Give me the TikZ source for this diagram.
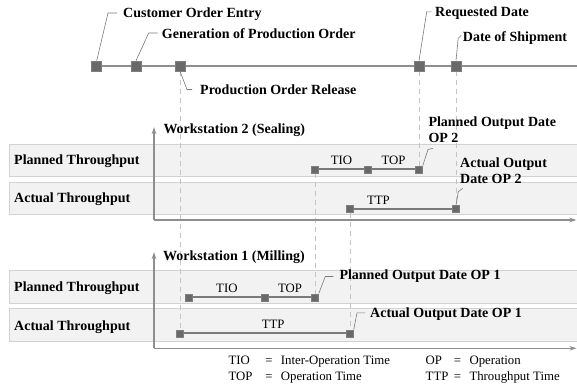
\documentclass[tikz,border=0pt]{standalone}
\usepackage{fontspec}
\setmainfont{Liberation Serif}
\usetikzlibrary{arrows.meta}

\definecolor{sqfill}{HTML}{696969}
\definecolor{sqedge}{HTML}{7E7E7E}
\definecolor{linec}{HTML}{8E8E8E}
\definecolor{segc}{HTML}{7A7A7A}
\definecolor{bandfill}{HTML}{F2F2F2}
\definecolor{bandline}{HTML}{D2D2D2}
\definecolor{dashc}{HTML}{C4C4C4}
\definecolor{leadc}{HTML}{7A7A7A}

\pgfdeclarelayer{bands}
\pgfdeclarelayer{lines}
\pgfsetlayers{bands,lines,main}

\tikzset{
  tsq/.style={draw=sqedge, fill=sqfill, line width=0.6pt, minimum size=10pt, inner sep=0pt},
  bsq/.style={draw=sqedge, fill=sqfill, line width=0.5pt, minimum size=7pt, inner sep=0pt},
  timeline/.style={draw=linec, line width=2pt},
  seg/.style={draw=segc, line width=2pt},
  lead/.style={draw=leadc, line width=0.6pt},
  guide/.style={draw=dashc, line width=0.8pt, dash pattern=on 5pt off 4pt},
  axis/.style={draw=linec, line width=1.3pt, -{Stealth[length=7pt,width=4.5pt]}},
  band/.style={fill=bandfill, draw=bandline, line width=0.8pt},
  blbl/.style={font=\fontsize{14}{16}\selectfont\bfseries, inner sep=0pt, anchor=west,
               text height=10pt, text depth=3pt},
  blbl2/.style={font=\fontsize{14}{16}\selectfont\bfseries, inner sep=0pt, anchor=west, align=left},
  rlbl/.style={font=\fontsize{12.8}{15}\selectfont, inner sep=0pt,
               text height=9.5pt, text depth=3pt},
  seglbl/.style={rlbl, anchor=center, yshift=8pt},
}

\begin{document}
\begin{tikzpicture}[x=1pt, y=-1pt]
\useasboundingbox (0,0) rectangle (577,389);

% background bands of the two workstations
\begin{pgfonlayer}{bands}
\path[band] (9.3,144) rectangle (577,176.5);
\path[band] (9.3,182) rectangle (577,214.5);
\path[band] (9.3,270.7) rectangle (577,303.3);
\path[band] (9.3,308.3) rectangle (577,341.7);
\end{pgfonlayer}

% order timeline events
\node[tsq] (e1) at (96.7,66) {};
\node[tsq] (e2) at (136,66) {};
\node[tsq] (e3) at (180,66) {};
\node[tsq] (e4) at (419,66) {};
\node[tsq] (e5) at (456,66) {};
\coordinate (tlend) at (577,66);

% event labels
\node[blbl] (c1) at (123,14) {Customer Order Entry};
\node[blbl] (c2) at (161.7,34.5) {Generation of Production Order};
\node[blbl] (c3) at (200,91) {Production Order Release};
\node[blbl] (c4) at (435,13.3) {Requested Date};
\node[blbl] (c5) at (462.7,38.3) {Date of Shipment};

% squares on the bands
\node[bsq] (p2a) at (315,169.3) {};
\node[bsq] (p2b) at (368,169.3) {};
\node[bsq] (p2c) at (419,169.3) {};
\node[bsq] (a2a) at (350,209) {};
\node[bsq] (a2b) at (456,209) {};
\node[bsq] (p1a) at (188.8,297.3) {};
\node[bsq] (p1b) at (265,297.3) {};
\node[bsq] (p1c) at (315,297.3) {};
\node[bsq] (a1a) at (180,333.3) {};
\node[bsq] (a1b) at (350,333.3) {};

% axes
\coordinate (o2) at (154,220);
\coordinate (y2) at (154,127);
\coordinate (x2) at (576.5,220);
\coordinate (o1) at (154,348.3);
\coordinate (y1) at (154,252);
\coordinate (x1) at (576.5,348.3);

\begin{pgfonlayer}{lines}
% dashed guide lines
\draw[guide] (e3.south) -- (a1a.north);
\draw[guide] (e4.south) -- (p2c.north);
\draw[guide] (e5.south) -- (a2b.north);
\draw[guide] (p2a.south) -- (p1c.north);
\draw[guide] (a2a.south) -- (a1b.north);

\draw[axis] (o2) -- (y2);
\draw[axis] (o2) -- (x2);
\draw[axis] (o1) -- (y1);
\draw[axis] (o1) -- (x1);

% timeline and throughput segments
\draw[timeline] (e1.west) -- (tlend);
\draw[seg] (p2a) -- node[seglbl] {TIO} (p2b) -- node[seglbl] {TOP} (p2c);
\draw[seg] (a2a) -- node[seglbl, pos=0.25] {TTP} (a2b);
\draw[seg] (p1a) -- node[seglbl] {TIO} (p1b) -- node[seglbl] {TOP} (p1c);
\draw[seg] (a1a) -- node[seglbl, pos=0.55] {TTP} (a1b);
\end{pgfonlayer}

% leader lines
\draw[lead] (e1.north) -- ([xshift=-15pt,yshift=1pt]c1.west) -- ([xshift=-6pt,yshift=1pt]c1.west);
\draw[lead] (e2.north) -- ([xshift=-13pt,yshift=1.5pt]c2.west) -- ([xshift=-4pt,yshift=1.5pt]c2.west);
\draw[lead] (e3.south) -- ([xshift=-13pt,yshift=1.5pt]c3.west) -- ([xshift=-8pt,yshift=1.5pt]c3.west);
\draw[lead] (e4.north) -- ([xshift=-8.3pt,yshift=1.5pt]c4.west) -- ([xshift=-3.3pt,yshift=1.5pt]c4.west);
\draw[lead] (e5.north) -- ([xshift=-4.5pt]c5.west) -- ([xshift=-1.5pt,yshift=3pt]c5.west);

% workstation titles and row labels
\node[blbl] (w2) at (163.3,130) {Workstation 2 (Sealing)};
\node[blbl] (w1) at (163,256.7) {Workstation 1 (Milling)};
\node[blbl] (r2p) at (14,161) {Planned Throughput};
\node[blbl] (r2a) at (14,199.3) {Actual Throughput};
\node[blbl] (r1p) at (14,288.3) {Planned Throughput};
\node[blbl] (r1a) at (14,327.3) {Actual Throughput};

% output date labels
\node[blbl2] (po2) at (428.3,129.5) {Planned Output Date\\OP 2};
\node[blbl2] (ao2) at (460,170.5) {Actual Output\\Date OP 2};
\node[blbl] (po1) at (339.3,275.5) {Planned Output Date OP 1};
\node[blbl] (ao1) at (370,313.8) {Actual Output Date OP 1};
\coordinate (po2l) at (433,148.3);
\coordinate (ao2l) at (462.7,188.3);
\draw[lead] (p2c.north east) -- (428,149.5) -- (po2l);
\draw[lead] (a2b.north) -- (458.3,191.7) -- (ao2l);
\draw[lead] (p1c.north east) -- ([xshift=-14pt,yshift=-1pt]po1.west) -- ([xshift=-6pt,yshift=-1pt]po1.west);
\draw[lead] (a1b.north east) -- ([xshift=-13pt,yshift=1pt]ao1.west) -- ([xshift=-5pt,yshift=1pt]ao1.west);

% legend
\node[rlbl, anchor=west] (k1) at (228.3,361.7) {TIO};
\node[rlbl] (k1e) at (269,361.7) {=};
\node[rlbl, anchor=west] (k1d) at (280.7,361.7) {Inter-Operation Time};
\node[rlbl, anchor=west] (k2) at (228.3,377.7) {TOP};
\node[rlbl] (k2e) at (269,377.7) {=};
\node[rlbl, anchor=west] (k2d) at (280.7,377.7) {Operation Time};
\node[rlbl, anchor=west] (k3) at (425.5,361.7) {OP};
\node[rlbl] (k3e) at (457.5,361.7) {=};
\node[rlbl, anchor=west] (k3d) at (469.3,361.7) {Operation};
\node[rlbl, anchor=west] (k4) at (425.5,377.7) {TTP};
\node[rlbl] (k4e) at (457.5,377.7) {=};
\node[rlbl, anchor=west] (k4d) at (469.3,377.7) {Throughput Time};
\end{tikzpicture}
\end{document}
